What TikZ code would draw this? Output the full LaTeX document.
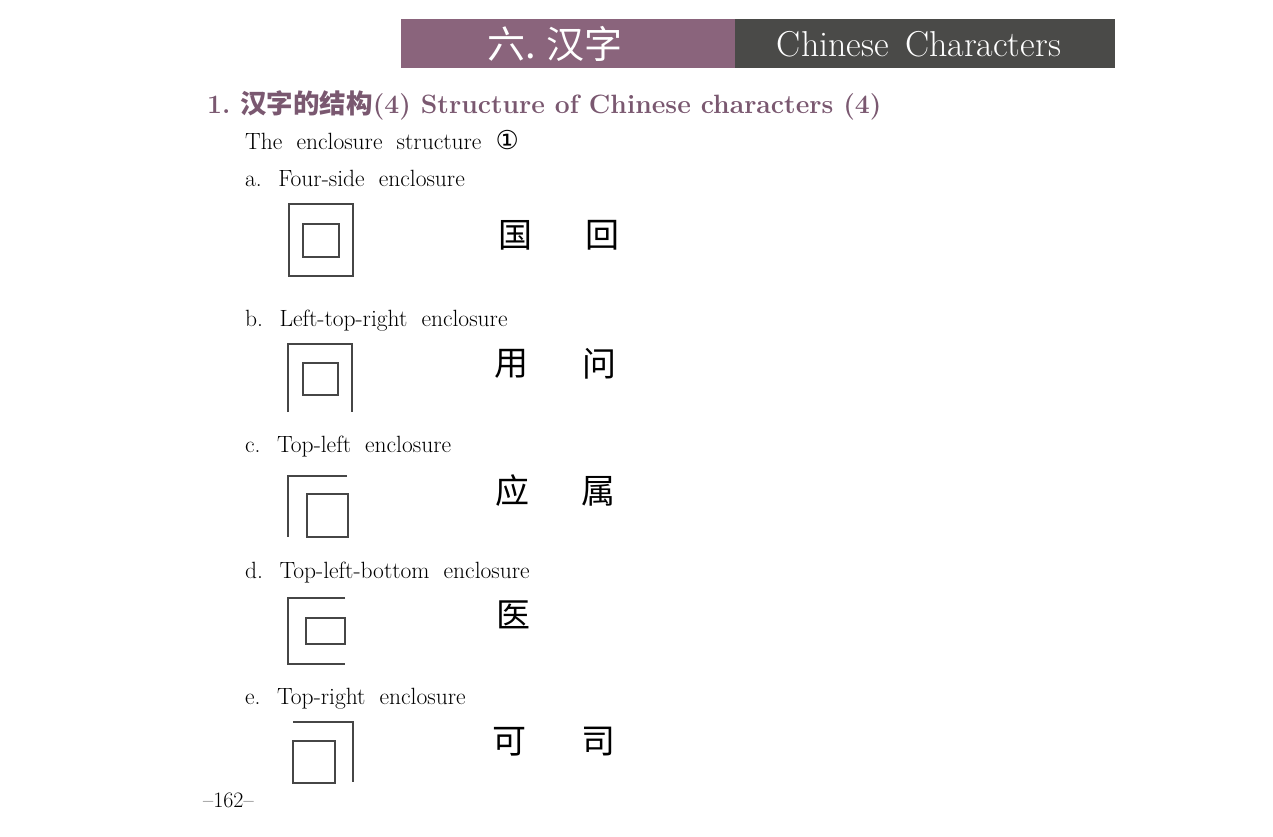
\documentclass[tikz,border=0pt]{standalone}
\usepackage{fontspec}
\newfontfamily\cjk{Noto Sans CJK SC}
\newfontfamily\symfont{DejaVu Sans}
\usetikzlibrary{positioning}
\definecolor{bannerpurple}{RGB}{138,100,124}
\definecolor{bannergray}{RGB}{74,74,72}
\definecolor{titlepurple}{RGB}{122,88,112}
\definecolor{boxline}{RGB}{70,70,70}
\newcommand{\widesp}[1]{\spaceskip=#1\relax}

\begin{document}
\begin{tikzpicture}[x=1pt,y=-1pt,
		lbl/.style={anchor=base west, inner sep=0pt,
			font={\fontsize{23.5}{27}\selectfont\widesp{0.6em}}},
		hanzi/.style={anchor=center, inner sep=0pt,
			font=\cjk\fontsize{34}{40}\selectfont},
		frame/.style={draw=boxline, line width=1.2pt}
		]
		\useasboundingbox (0,0) rectangle (1273,837);
		
		% banner
		\fill[bannerpurple] (401,19) rectangle (735,68);
		\fill[bannergray] (735,19) rectangle (1115,68);
		\node[white, inner sep=0pt, font=\cjk\fontsize{38}{42}\selectfont] (bannercn) at (555,44) {六. 汉字};
		\node[white, inner sep=0pt, font={\fontsize{36}{40}\selectfont\widesp{0.45em}}] (banneren) at (919,44) {Chinese Characters};
		
		% title and intro
		\node[lbl, titlepurple, font={\fontsize{26.5}{30}\selectfont\bfseries}] (title) at (207,114)
		{1.\ {\cjk\bfseries 汉字的结构}(4)\ Structure of Chinese characters\ (4)};
		\node[lbl] (intro) at (245,150) {The enclosure structure {\symfont\fontsize{26}{28}\selectfont ①}};
		
		% item labels
		\foreach \txt/\y [count=\i] in {a. Four-side enclosure/186,
			b. Left-top-right enclosure/326,
			c. Top-left enclosure/452,
			d. Top-left-bottom enclosure/578,
			e. Top-right enclosure/704}
		\node[lbl] (item\i) at (245,\y) {\txt};
		
		% example characters
		\foreach \ch/\x/\y [count=\i] in {国/515/235, 回/602/235,
			用/511/364, 问/599/364,
			应/512/491, 属/598/491,
			医/513/615,
			可/509/742, 司/598/742}
		\node[hanzi] (hz\i) at (\x,\y) {\ch};
		
		% a. four-side
		\draw[frame] (289,204) rectangle (353,276);
		\draw[frame] (303,224) rectangle (339,257);
		% b. left-top-right
		\draw[frame] (288,412) -- (288,344) -- (352,344) -- (352,412);
		\draw[frame] (303,363) rectangle (338,395);
		% c. top-left
		\draw[frame] (347,476) -- (288,476) -- (288,537);
		\draw[frame] (307,494) rectangle (348,537);
		% d. top-left-bottom
		\draw[frame] (345,598) -- (288,598) -- (288,664) -- (345,664);
		\draw[frame] (306,618) rectangle (345,644);
		% e. top-right
		\draw[frame] (293,722) -- (353,722) -- (353,782);
		\draw[frame] (293,741) rectangle (335,783);
		
		% page number
		\node[lbl, font={\fontsize{22}{26}\selectfont}] (pageno) at (203,807) {--162--};
	\end{tikzpicture}
\end{document}
